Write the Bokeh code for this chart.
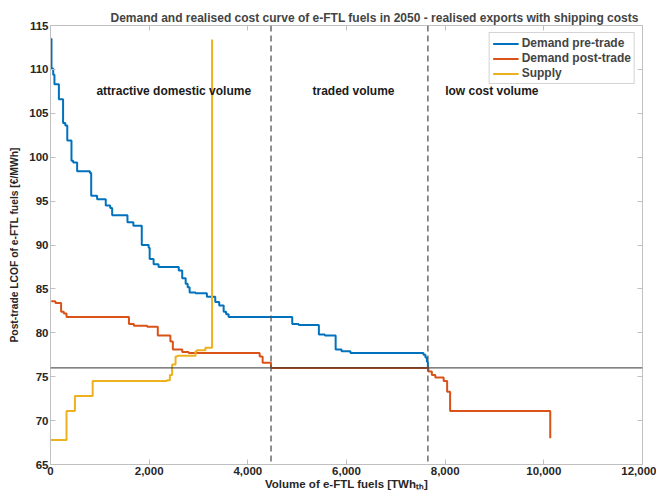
from bokeh.plotting import figure
from bokeh.models import (LinearAxis, Span, NumeralTickFormatter, Legend, LegendItem,
                          FixedTicker, Range1d)
from bokeh.core.properties import value
from bokeh.embed import file_html
from bokeh.resources import INLINE

# ---- data ----
pre_x = [15, 20, 55, 80, 170, 255, 300, 340, 425, 460, 540, 800, 825, 945, 1120, 1210, 1250,
         1560, 1680, 1850, 1990, 2010, 2090, 2190, 2600, 2670, 2740, 2780, 2820, 2940, 3170,
         3340, 3420, 3510, 3560, 3610, 4900, 5030, 5440, 5560, 5780, 5900, 6080, 7560, 7600,
         7630, 7650]
pre_y = [113.5, 110.1, 109.4, 108.3, 106.6, 103.9, 103.6, 101.9, 99.6, 99.4, 98.4, 98.2, 95.6,
         95.2, 94.5, 94.2, 93.4, 92.6, 92.2, 90.0, 89.7, 88.4, 87.8, 87.5, 87.1, 86.2, 85.6,
         85.2, 84.6, 84.5, 84.1, 83.5, 83.1, 82.4, 82.1, 81.8, 81.0, 80.9, 79.8, 79.7, 78.1,
         77.9, 77.7, 77.5, 77.2, 76.7, 76.0]

post_x = [15, 100, 215, 270, 325, 1590, 1690, 1960, 2175, 2430, 2480, 2670, 2800, 4240, 4300,
          4470, 7660, 7730, 7800, 7970, 8040, 8100, 10130]
post_y = [83.6, 83.4, 82.4, 82.2, 81.8, 81.0, 80.8, 80.7, 79.7, 79.0, 78.1, 77.8, 77.7, 77.3,
          76.6, 76.0, 75.6, 75.2, 74.9, 74.5, 73.3, 71.1, 68.0]

sup_x = [0, 325, 495, 855, 2360, 2420, 2465, 2535, 2570, 2940, 2970, 3140, 3275]
sup_y = [67.8, 71.1, 72.8, 74.5, 74.6, 75.2, 76.4, 77.3, 77.4, 77.9, 78.0, 78.3, 113.4]

equilibrium_price = 76.0
domestic_limit = 4470
trade_limit = 7650

region_labels = ["attractive domestic volume", "traded volume", "low cost volume"]
region_label_x = [930, 5310, 8000]
region_label_y = 107.5

x_ticks = [0, 2000, 4000, 6000, 8000, 10000, 12000]
y_ticks = [65, 70, 75, 80, 85, 90, 95, 100, 105, 110, 115]

BLUE, ORANGE, YELLOW = "#0072BD", "#D95319", "#EDB120"
FONT = "Liberation Sans"
AX = "#c0c0c0"

p = figure(width=656, height=492, output_backend="svg", toolbar_location=None,
           x_range=Range1d(0, 12000), y_range=Range1d(65, 115),
           min_border_left=50, min_border_right=14, min_border_top=25, min_border_bottom=27)

p.title.text = "Demand and realised cost curve of e-FTL fuels in 2050 - realised exports with shipping costs"
p.title.text_font = FONT
p.title.text_font_size = "12px"
p.title.text_font_style = "bold"
p.title.align = "left"
p.title.offset = 60
p.title.standoff = 1

p.xgrid.visible = False
p.ygrid.visible = False
p.outline_line_color = AX

def style_axis(ax, labels=True):
    ax.axis_line_color = AX
    ax.major_tick_line_color = AX
    ax.major_tick_in = 5
    ax.major_tick_out = 0
    ax.minor_tick_line_color = None
    ax.major_label_text_font = FONT
    ax.major_label_text_font_style = "bold"
    ax.major_label_text_font_size = "11.5px"
    ax.major_label_text_color = "#262626"
    ax.axis_label_text_font = FONT
    ax.axis_label_text_font_style = "bold"
    ax.axis_label_text_font_size = "11.5px"
    ax.axis_label_text_color = "#262626"
    ax.major_label_standoff = 2 if labels else 0

p.xaxis.ticker = FixedTicker(ticks=x_ticks)
p.yaxis.ticker = FixedTicker(ticks=y_ticks)
p.xaxis.formatter = NumeralTickFormatter(format="0,0")
p.xaxis.axis_label = "Volume of e-FTL fuels [TWhₜₕ]"
p.yaxis.axis_label = "Post-trade LCOF of e-FTL fuels [€/MWh]"
p.xaxis.axis_label_standoff = 0
p.yaxis.axis_label_standoff = 6
style_axis(p.xaxis[0])
style_axis(p.yaxis[0])
p.yaxis.axis_label_text_font_size = "10.3px"

top = LinearAxis(ticker=FixedTicker(ticks=x_ticks),
                 major_label_overrides={t: "" for t in x_ticks})
right = LinearAxis(ticker=FixedTicker(ticks=y_ticks),
                   major_label_overrides={t: "" for t in y_ticks})
style_axis(top, labels=False)
style_axis(right, labels=False)
top.axis_line_color = None
right.axis_line_color = None
p.add_layout(top, "above")
p.add_layout(right, "right")

r_pre = p.step(pre_x, pre_y, mode="after", line_color=BLUE, line_width=2)
r_post = p.step(post_x, post_y, mode="after", line_color=ORANGE, line_width=2)
r_sup = p.step(sup_x, sup_y, mode="after", line_color=YELLOW, line_width=2)

p.add_layout(Span(location=equilibrium_price, dimension="width", line_color="#333333",
                  line_width=1.2, line_alpha=0.8))
for loc in (domestic_limit, trade_limit):
    p.add_layout(Span(location=loc, dimension="height", line_color="#555555",
                      line_width=1.3, line_dash="6 4"))

p.text(x=region_label_x, y=[region_label_y] * 3, text=region_labels,
       text_font=value(FONT), text_font_style="bold", text_font_size="12px",
       text_baseline="middle", text_color="#1a1a1a")

legend = Legend(items=[LegendItem(label="Demand pre-trade", renderers=[r_pre]),
                       LegendItem(label="Demand post-trade", renderers=[r_post]),
                       LegendItem(label="Supply", renderers=[r_sup])],
                location="top_right", margin=7, padding=3, spacing=1,
                glyph_width=26, glyph_height=13, label_height=13, label_standoff=3,
                label_text_font=FONT, label_text_font_style="bold",
                label_text_font_size="12px", border_line_color="#aaaaaa",
                background_fill_color="white")
p.add_layout(legend, "center")

open("out.html", "w").write(file_html(p, INLINE))
